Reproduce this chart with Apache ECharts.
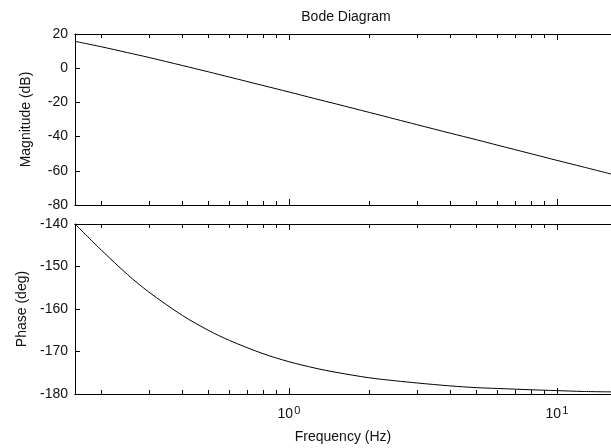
<!DOCTYPE html>
<html><head><meta charset="utf-8">
<script src="https://cdn.jsdelivr.net/npm/echarts@6/dist/echarts.min.js"></script>
<style>html,body{margin:0;padding:0;background:#fff}#c{width:611px;height:448px}</style>
</head><body><div id="c"></div>
<script>
// Data (frequency in Hz)
const freqHz   = [0.15915, 0.2, 0.25, 0.3, 0.4, 0.5, 0.6, 0.8, 1, 1.25, 1.5, 2, 2.5, 3, 4, 5, 6, 8, 10, 12.5, 15.915];
const magDb    = [15.7, 12.5, 9.1, 6.3, 1.6, -2.1, -5.2, -10.1, -13.9, -17.8, -20.9, -25.9, -29.8, -33.0, -38.0, -41.8, -45.0, -50.0, -53.9, -57.7, -61.9];
const phaseDeg = [-140.0, -146.2, -151.9, -156.0, -161.5, -165.0, -167.4, -170.5, -172.4, -173.9, -174.9, -176.2, -176.9, -177.4, -178.1, -178.5, -178.7, -179.0, -179.2, -179.4, -179.5];
const majorFreqTicks = [1, 10];
const minorFreqTicks = [0.2, 0.3, 0.4, 0.5, 0.6, 0.7, 0.8, 0.9, 2, 3, 4, 5, 6, 7, 8, 9];
const freqMin = 0.15915, freqMax = 15.915;
const magRange = [-80, 20], magStep = 20;
const phaseRange = [-180, -140], phaseStep = 10;

const FONT = 'Liberation Sans, Arial, sans-serif';
const TXT = '#111';
const LINE = '#000';

function xAx(grid, pos, ticks, len, showLabel, name) {
  const a = {
    type: 'log', logBase: 10, gridIndex: grid, position: pos,
    min: freqMin, max: freqMax,
    axisLine: { show: true, onZero: false, lineStyle: { color: LINE, width: 1 } },
    axisTick: { show: true, inside: true, length: len, customValues: ticks, lineStyle: { color: LINE, width: 1 } },
    axisLabel: { show: false },
    splitLine: { show: false }, minorTick: { show: false }, minorSplitLine: { show: false }
  };
  if (showLabel) {
    a.axisLabel = {
      show: true, customValues: ticks, margin: 11,
      formatter: v => '{b|10}{s|' + Math.round(Math.log10(v)) + '}',
      rich: {
        b: { fontSize: 14, fontFamily: FONT, color: TXT, lineHeight: 18 },
        s: { fontSize: 11, fontFamily: FONT, color: TXT, verticalAlign: 'top', padding: [0, 0, 0, 1] }
      }
    };
  }
  if (name) {
    a.name = name;
    a.nameLocation = 'middle';
    a.nameGap = 36;
    a.nameTextStyle = { fontSize: 14, fontFamily: FONT, color: TXT };
  }
  return a;
}

function yAx(grid, range, step, name) {
  return {
    type: 'value', gridIndex: grid, position: 'left',
    min: range[0], max: range[1], interval: step,
    axisLine: { show: true, onZero: false, lineStyle: { color: LINE, width: 1 } },
    axisTick: { show: true, inside: true, length: 5, lineStyle: { color: LINE, width: 1 } },
    axisLabel: { show: true, margin: 7, fontSize: 14, fontFamily: FONT, color: TXT },
    splitLine: { show: false },
    name: name, nameLocation: 'middle', nameRotate: 90, nameGap: 42,
    nameTextStyle: { fontSize: 14, fontFamily: FONT, color: TXT }
  };
}

const chart = echarts.init(document.getElementById('c'), null, { renderer: 'canvas' });
chart.setOption({
  animation: false,
  backgroundColor: '#fff',
  title: {
    text: 'Bode Diagram', left: 346, top: 10, padding: 0, textAlign: 'center',
    textStyle: { fontSize: 14, fontWeight: 'normal', fontFamily: FONT, color: TXT }
  },
  grid: [
    { left: 75, top: 34, width: 544, height: 171, containLabel: false },
    { left: 75, top: 224, width: 544, height: 170, containLabel: false }
  ],
  xAxis: [
    xAx(0, 'bottom', majorFreqTicks, 6, false),
    xAx(0, 'bottom', minorFreqTicks, 4, false),
    xAx(0, 'top', majorFreqTicks, 6, false),
    xAx(0, 'top', minorFreqTicks, 4, false),
    xAx(1, 'bottom', majorFreqTicks, 6, true, 'Frequency (Hz)'),
    xAx(1, 'bottom', minorFreqTicks, 4, false),
    xAx(1, 'top', majorFreqTicks, 6, false),
    xAx(1, 'top', minorFreqTicks, 4, false)
  ],
  yAxis: [
    yAx(0, magRange, magStep, 'Magnitude (dB)'),
    yAx(1, phaseRange, phaseStep, 'Phase (deg)')
  ],
  series: [
    {
      type: 'line', xAxisIndex: 0, yAxisIndex: 0, showSymbol: false, smooth: 0.3,
      lineStyle: { color: LINE, width: 1 },
      data: freqHz.map((f, i) => [f, magDb[i]])
    },
    {
      type: 'line', xAxisIndex: 4, yAxisIndex: 1, showSymbol: false, smooth: 0.3,
      lineStyle: { color: LINE, width: 1 },
      data: freqHz.map((f, i) => [f, phaseDeg[i]])
    }
  ]
});
</script>
</body></html>
